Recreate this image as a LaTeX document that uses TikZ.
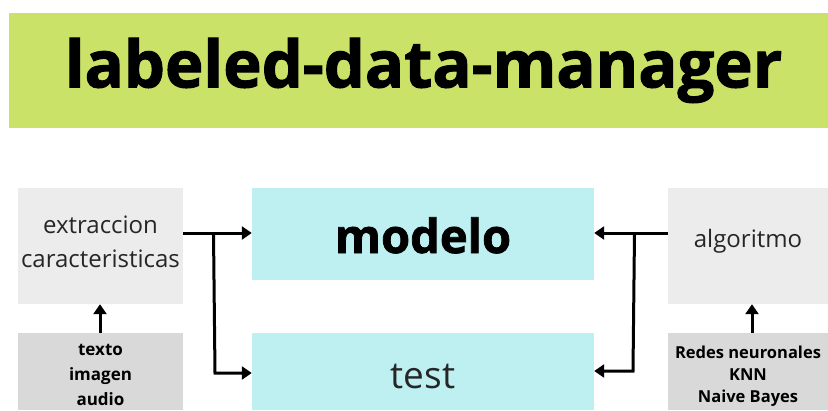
\documentclass[tikz,border=0pt]{standalone}
\usepackage{fontspec}
\setmainfont{Open Sans}
\newfontfamily\heavyfont[FakeBold=1.6]{Open Sans}
\usetikzlibrary{arrows.meta}
\definecolor{titlegreen}{RGB}{203,226,104}
\definecolor{boxcyan}{RGB}{190,240,242}
\definecolor{lightbox}{RGB}{236,236,236}
\definecolor{darkbox}{RGB}{217,217,217}
\tikzset{
  box/.style={inner sep=0pt, align=center, text=black!85},
  conn/.style={line width=3pt, -{Triangle[length=10pt,width=13pt]}}
}
% place text so that its (last) baseline sits #1 below the node centre
\newcommand{\placetext}[3]{\raisebox{-#1}[0pt][0pt]{\parbox[b]{#2}{\centering #3}}}
\begin{document}
\begin{tikzpicture}[x=1pt,y=-1pt]
\useasboundingbox (0,0) rectangle (828,410);
\fill[white] (0,0) rectangle (828,410);
% title
\node[box, fill=titlegreen, minimum width=819pt, minimum height=115pt, text=black,
      font=\fontsize{65}{70}\selectfont\heavyfont\bfseries] (title) at (418.5,70.5)
  {\hspace*{10pt}\raisebox{-2pt}{labeled-data-manager}};
% left boxes
\node[box, fill=lightbox, minimum width=165pt, minimum height=116pt,
      font=\fontsize{24}{34}\selectfont] (extr) at (100.5,246)
  {\placetext{21pt}{164pt}{extraccion\\caracteristicas}};
\node[box, fill=darkbox, minimum width=165pt, minimum height=77pt, text=black,
      font=\fontsize{17}{25}\selectfont\bfseries] (input) at (100.5,371.5)
  {\placetext{33.5pt}{160pt}{texto\\imagen\\audio}};
% center boxes
\node[box, fill=boxcyan, minimum width=342pt, minimum height=92pt, text=black,
      font=\fontsize{47}{52}\selectfont\heavyfont\bfseries] (modelo) at (423,234)
  {\placetext{19pt}{300pt}{modelo}};
\node[box, fill=boxcyan, minimum width=342pt, minimum height=77pt,
      font=\fontsize{37}{42}\selectfont] (test) at (423,371.5)
  {\placetext{16.5pt}{300pt}{test}};
% right boxes
\node[box, fill=lightbox, minimum width=160pt, minimum height=116pt,
      font=\fontsize{24}{33}\selectfont] (algo) at (748,246)
  {\placetext{1pt}{158pt}{algoritmo}};
\node[box, fill=darkbox, minimum width=160pt, minimum height=77pt, text=black,
      font=\fontsize{16.5}{22}\selectfont\bfseries] (algs) at (748,371.5)
  {\placetext{30.5pt}{158pt}{Redes neuronales\\KNN\\Naive Bayes}};
% coordinates
\coordinate (lsplit) at (215,233);
\coordinate (lcorner) at (215,373);
\coordinate (rsplit) at (633,233);
\coordinate (rcorner) at (633,371);
% connectors
\draw[conn] (extr.east |- lsplit) -- (modelo.west |- lsplit);
\draw[conn] ([xshift=-1.5pt]lsplit) -- (lcorner) -- (test.west |- lcorner);
\draw[conn] (algo.west |- rsplit) -- (modelo.east |- rsplit);
\draw[conn] ([xshift=1.5pt]rsplit) -- (rcorner) -- (test.east |- rcorner);
\draw[conn] (input.north -| 100,0) -- (extr.south -| 100,0);
\draw[conn] (algs.north -| 752,0) -- (algo.south -| 752,0);
\end{tikzpicture}
\end{document}
